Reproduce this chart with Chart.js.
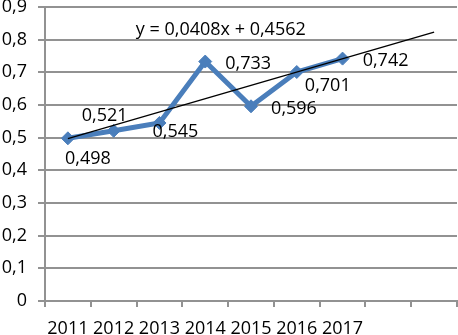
<!DOCTYPE html>
<html>
<head>
<meta charset="utf-8">
<script src="https://cdn.jsdelivr.net/npm/chart.js@4/dist/chart.umd.min.js"></script>
<style>
html,body{margin:0;padding:0;background:#fff;}
#wrap{width:458px;height:335px;position:relative;}
</style>
</head>
<body>
<div id="wrap"><canvas id="c" width="458" height="335"></canvas></div>
<script>
// ---- data ----
const categories = ['2011','2012','2013','2014','2015','2016','2017','',''];
const values = [0.498, 0.521, 0.545, 0.733, 0.596, 0.701, 0.742];
const trendValues = [0.497, null, null, null, null, null, null, null, 0.823];
const yTicks = [0,0.1,0.2,0.3,0.4,0.5,0.6,0.7,0.8,0.9];
const equationText = 'y = 0,0408x + 0,4562';

// ---- style / layout ----
const FONT = '"Open Sans", "Liberation Sans", sans-serif';
const labelOffsets = [[20,19],[-9,-16],[16,8],[43,1],[43,1],[31,12],[43,1]];
const equationPos = {x: 3.34, y: 0.835};
const GRID = '#929292';
const fmt = v => String(v).replace('.', ',');

const labelPlugin = {
  id: 'labels',
  afterDatasetsDraw(chart) {
    const ctx = chart.ctx;
    const meta = chart.getDatasetMeta(0);
    ctx.save();
    ctx.font = '18px ' + FONT;
    ctx.fillStyle = '#000';
    ctx.textAlign = 'center';
    ctx.textBaseline = 'alphabetic';
    meta.data.forEach((pt, i) => {
      const off = labelOffsets[i];
      ctx.fillText(fmt(values[i]), pt.x + off[0], pt.y + off[1] + 6.5);
    });
    const xs = chart.scales.x, ys = chart.scales.y;
    const ex = xs.getPixelForValue(equationPos.x);
    const ey = ys.getPixelForValue(equationPos.y);
    ctx.fillText(equationText, ex, ey + 6.5);
    ctx.restore();
  }
};

new Chart(document.getElementById('c'), {
  type: 'line',
  data: {
    labels: categories,
    datasets: [
      {
        data: values,
        borderColor: '#4a7ebb',
        backgroundColor: '#4a7ebb',
        borderWidth: 5,
        pointStyle: 'rectRot',
        pointRadius: 6.5,
        pointBorderWidth: 1,
        pointBorderColor: '#4a7ebb',
        pointBackgroundColor: '#4a7ebb',
        tension: 0,
        order: 2
      },
      {
        data: trendValues,
        borderColor: '#000',
        borderWidth: 1.3,
        pointRadius: 0,
        spanGaps: true,
        tension: 0,
        order: 1
      }
    ]
  },
  options: {
    responsive: false,
    animation: false,
    devicePixelRatio: 1,
    layout: {autoPadding: false, padding: {top: 7, right: 1, left: 0, bottom: 0}},
    plugins: {legend: {display: false}, tooltip: {enabled: false}},
    scales: {
      x: {
        type: 'category',
        offset: true,
        grid: {
          offset: true,
          drawOnChartArea: false,
          drawTicks: true,
          tickLength: 6,
          color: GRID,
          lineWidth: 2
        },
        border: {color: GRID, width: 2},
        ticks: {
          autoSkip: false,
          maxRotation: 0,
          padding: 11,
          color: '#000',
          font: {family: FONT, size: 18}
        },
        afterFit(s) { s.height = 34; s.paddingLeft = 0; s.paddingRight = 0; }
      },
      y: {
        min: 0,
        max: 0.9,
        afterBuildTicks(s) { s.ticks = yTicks.map(v => ({value: v})); },
        grid: {color: GRID, lineWidth: 2, tickLength: 7},
        border: {color: GRID, width: 2},
        ticks: {
          padding: 11,
          color: '#000',
          font: {family: FONT, size: 18},
          callback: v => fmt(Math.round(v * 10) / 10)
        },
        afterFit(s) { s.width = 45; s.paddingTop = 0; s.paddingBottom = 0; }
      }
    }
  },
  plugins: [labelPlugin]
});
</script>
</body>
</html>
